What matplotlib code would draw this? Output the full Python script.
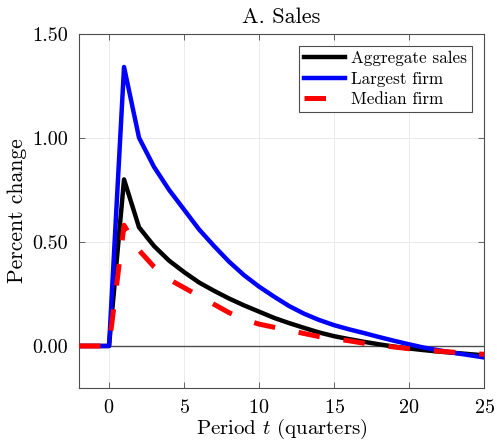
import numpy as np
import matplotlib
matplotlib.use("Agg")
import matplotlib.pyplot as plt

plt.rcParams['font.family'] = 'serif'
plt.rcParams['font.serif'] = ['cmr10']
plt.rcParams['mathtext.fontset'] = 'cm'
plt.rcParams['axes.formatter.use_mathtext'] = True

# okresy (kwartaly)
okres = np.arange(-2, 26)

# reakcja sprzedazy (zmiana procentowa)
agregat = [0, 0, 0,
           0.80, 0.57, 0.48, 0.41, 0.355, 0.305, 0.265, 0.228, 0.195, 0.165,
           0.135, 0.11, 0.087, 0.065, 0.047, 0.033, 0.02, 0.008, -0.003,
           -0.012, -0.02, -0.027, -0.033, -0.039, -0.045]
najwieksza = [0, 0, 0,
              1.34, 1.00, 0.86, 0.75, 0.655, 0.56, 0.48, 0.405, 0.34, 0.285,
              0.237, 0.192, 0.155, 0.125, 0.10, 0.08, 0.062, 0.043, 0.025,
              0.008, -0.008, -0.021, -0.033, -0.044, -0.055]
mediana = [0, 0, 0,
           0.58, 0.46, 0.38, 0.32, 0.28, 0.24, 0.20, 0.16, 0.128, 0.105,
           0.09, 0.075, 0.06, 0.045, 0.035, 0.025, 0.013, 0.004, -0.005,
           -0.013, -0.02, -0.025, -0.03, -0.035, -0.04]

y_ticks = [0.0, 0.5, 1.0, 1.5]
x_ticks = [0, 5, 10, 15, 20, 25]

fig = plt.figure(figsize=(4.97, 4.43), dpi=100)
ax = fig.add_axes([0.159, 0.125, 0.815, 0.799])

ax.axhline(0, color='0.3', lw=1.0, zorder=1)
ax.plot(okres, agregat, color='black', lw=3.2, label='Aggregate sales', zorder=2)
ax.plot(okres, najwieksza, color='blue', lw=3.2, label='Largest firm', zorder=3)
ax.plot(okres, mediana, color='red', lw=3.6, linestyle=(0, (4.3, 4.8)),
        label='Median firm', zorder=4)

ax.set_xlim(-2, 25)
ax.set_ylim(-0.2, 1.5)
ax.set_xticks(x_ticks)
ax.set_yticks(y_ticks)
ax.set_yticklabels(['%.2f' % v for v in y_ticks])
ax.tick_params(direction='in', top=True, right=True, length=4, width=0.6,
               color='0.3', labelsize=14.5, pad=8)
for s in ax.spines.values():
    s.set_color('0.3')
    s.set_linewidth(0.8)
ax.grid(True, color='0.9', lw=0.6)
ax.set_axisbelow(True)

ax.set_title('A. Sales', fontsize=16, pad=8)
ax.set_xlabel(r'Period $t$ (quarters)', fontsize=15, labelpad=0)
ax.set_ylabel('Percent change', fontsize=15.5)

leg = ax.legend(loc='upper right', fontsize=12.3, fancybox=False, framealpha=1,
                edgecolor='0.3', handlelength=2.4, handletextpad=0.35,
                borderpad=0.3, labelspacing=0.3, borderaxespad=0.7)
leg.get_frame().set_linewidth(0.8)

plt.savefig('out.png', dpi=100)
